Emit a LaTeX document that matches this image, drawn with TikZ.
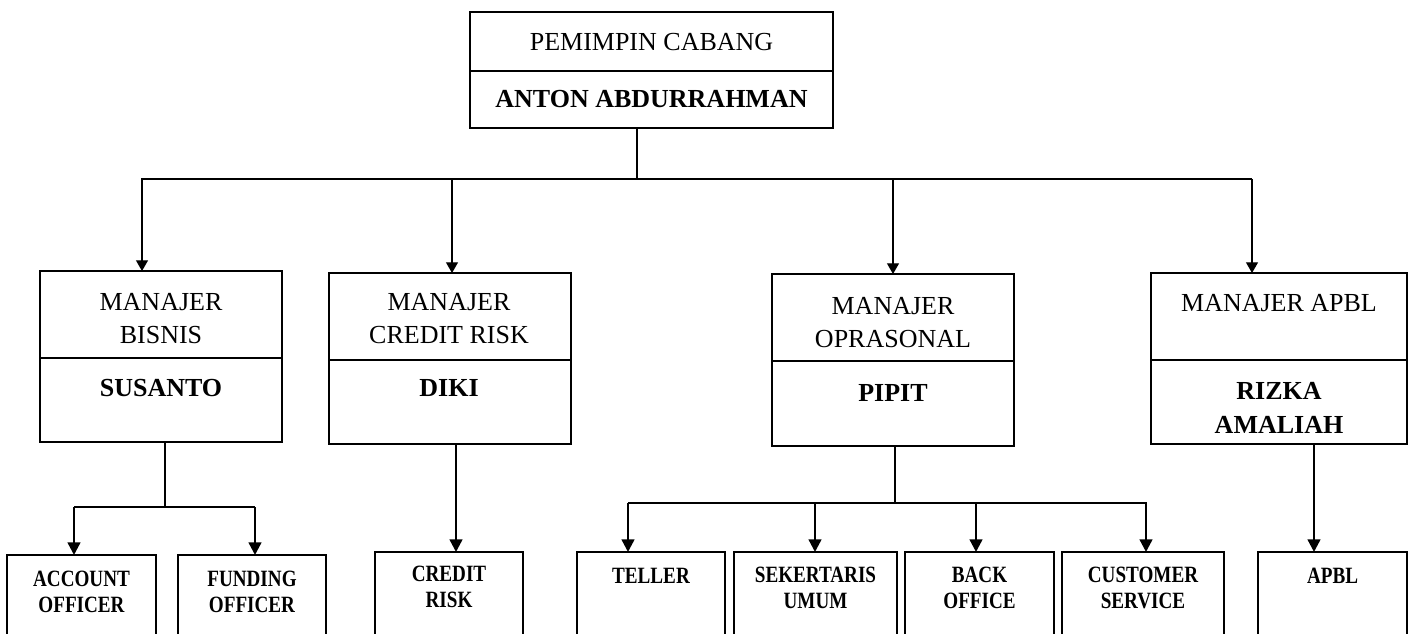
\documentclass[tikz,border=0pt]{standalone}
\usepackage{fontspec}
\setmainfont{Liberation Serif}
\newfontfamily\narrowserif[FakeStretch=0.82]{Liberation Serif}
\usetikzlibrary{arrows.meta,positioning,calc}

\begin{document}
\begin{tikzpicture}[
    x=0.75pt, y=-0.75pt,
    box/.style={rectangle, draw, line width=2pt, inner sep=0pt, outer sep=0pt},
    sz/.style 2 args={minimum width=#1*0.75pt, minimum height=#2*0.75pt},
    titletext/.style={anchor=base, align=center, inner sep=0pt, font=\fontsize{19.5}{25}\selectfont},
    nametext/.style={titletext, font=\fontsize{19.5}{25}\selectfont\bfseries},
    unittext/.style={anchor=base, align=center, inner sep=0pt, font=\narrowserif\fontsize{17.5}{18.8}\selectfont\bfseries},
    bus/.style={line width=1.4pt},
    link/.style={line width=1.8pt},
    toparrow/.style={line width=0.8pt, -{Triangle[width=9pt, length=8pt]}},
    subarrow/.style={line width=1.8pt, -{Triangle[width=9.5pt, length=9.5pt]}}
  ]
  \path[use as bounding box] (0,0) rectangle (1413,634);
  \clip (0,0) rectangle (1413,634);

  % pemimpin cabang
  \node[box, sz={363}{59}] (head) at (651.5,41.5) {};
  \node[box, sz={363}{57}, below=0pt of head] (headname) {};
  \node[titletext] (t-head) at (651.5,51) {PEMIMPIN CABANG};
  \node[nametext] (n-head) at (651.5,108) {ANTON ABDURRAHMAN};

  % manajer (baseline = last line)
  \node[box, sz={242}{87}] (bisnis) at (161,314.5) {};
  \node[box, sz={242}{84}, below=0pt of bisnis] (bisnisname) {};
  \node[box, sz={242}{87}] (credit) at (450,316.5) {};
  \node[box, sz={242}{84}, below=0pt of credit] (creditname) {};
  \node[box, sz={242}{87}] (oprasonal) at (893,317.5) {};
  \node[box, sz={242}{85}, below=0pt of oprasonal] (oprasonalname) {};
  \node[box, sz={256}{87}] (apbl) at (1279,316.5) {};
  \node[box, sz={256}{84}, below=0pt of apbl] (apblname) {};

  \node[titletext] (t-bisnis) at (161,344) {MANAJER\\BISNIS};
  \node[nametext] (n-bisnis) at (161,397) {SUSANTO};
  \node[titletext] (t-credit) at (449,344) {MANAJER\\CREDIT RISK};
  \node[nametext] (n-credit) at (449,397) {DIKI};
  \node[titletext] (t-oprasonal) at (893,348) {MANAJER\\OPRASONAL};
  \node[nametext] (n-oprasonal) at (893,402) {PIPIT};
  \node[titletext] (t-apbl) at (1279,312) {MANAJER APBL};
  \node[nametext] (n-apbl) at (1279,433) {RIZKA\\AMALIAH};

  % staf
  \node[box, sz={149}{109}] (account) at (81.5,609.5) {};
  \node[box, sz={148}{109}] (funding) at (252,609.5) {};
  \node[box, sz={148}{112}] (creditrisk) at (449,608) {};
  \node[box, sz={148}{112}] (teller) at (651,608) {};
  \node[box, sz={163}{112}] (sekertaris) at (815.5,608) {};
  \node[box, sz={149}{112}] (backoffice) at (979.5,608) {};
  \node[box, sz={162}{112}] (customer) at (1143,608) {};
  \node[box, sz={149}{112}] (apblunit) at (1332.5,608) {};

  \node[unittext] (u-account) at (81.5,612) {ACCOUNT\\OFFICER};
  \node[unittext] (u-funding) at (252,612) {FUNDING\\OFFICER};
  \node[unittext] (u-creditrisk) at (449,607) {CREDIT\\RISK};
  \node[unittext] (u-teller) at (651,583) {TELLER};
  \node[unittext] (u-sekertaris) at (815.5,608) {SEKERTARIS\\UMUM};
  \node[unittext] (u-backoffice) at (979.5,608) {BACK\\OFFICE};
  \node[unittext] (u-customer) at (1143,608) {CUSTOMER\\SERVICE};
  \node[unittext] (u-apblunit) at (1332.5,583) {APBL};

  % garis ke manajer
  \coordinate (bus-l) at (141,179);
  \coordinate (bus-r) at (1252,179);
  \draw[bus] (headname.south -| 637,0) -- (bus-l -| 637,0);
  \draw[bus] (bus-l) -- (bus-r);
  \foreach \x/\n in {142/bisnis, 452/credit, 893/oprasonal, 1252/apbl}
    \draw[toparrow] (\x,179) -- (\n.north -| \x,0);

  % garis ke staf
  \coordinate (jb) at (165,507);
  \draw[link] (bisnisname.south -| jb) -- (jb);
  \draw[link] (74,507) -- (255,507);
  \foreach \x/\n in {74/account, 255/funding}
    \draw[subarrow] (\x,507) -- (\n.north -| \x,0);
  \draw[subarrow] (creditname.south -| 456,0) -- (creditrisk.north -| 456,0);
  \coordinate (jo) at (895,503);
  \draw[link] (oprasonalname.south -| jo) -- (jo);
  \draw[link] (628,503) -- (1147,503);
  \foreach \x/\n in {628/teller, 815/sekertaris, 976/backoffice, 1146/customer}
    \draw[subarrow] (\x,503) -- (\n.north -| \x,0);
  \draw[subarrow] (apblname.south -| 1314,0) -- (apblunit.north -| 1314,0);
\end{tikzpicture}
\end{document}
